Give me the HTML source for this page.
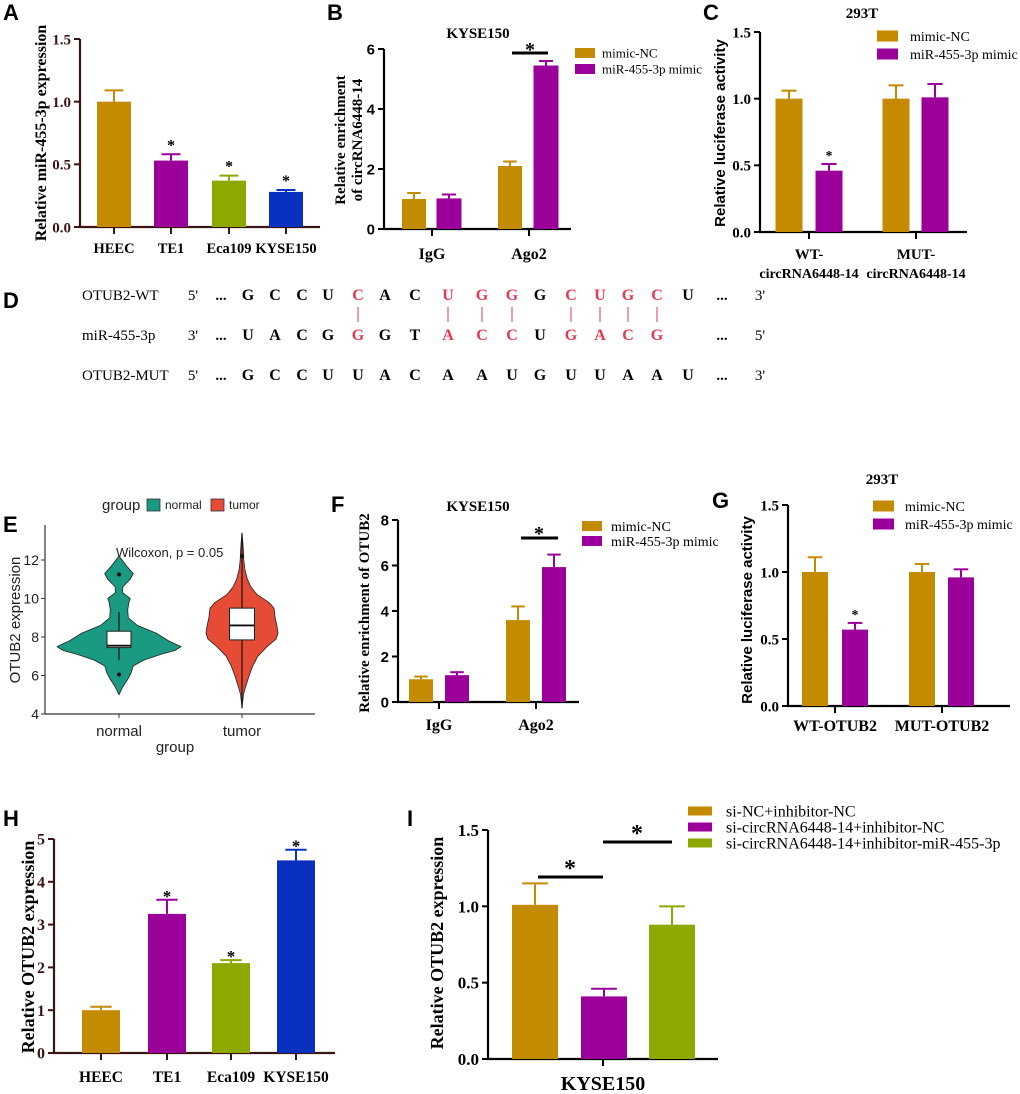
<!DOCTYPE html>
<html><head><meta charset="utf-8"><style>
html,body{margin:0;padding:0;background:#fff;}
svg{display:block;}
</style></head><body>
<svg id="fig" width="1020" height="1094" viewBox="0 0 1020 1094" xmlns="http://www.w3.org/2000/svg">
<rect x="0" y="0" width="1020" height="1094" fill="#fff"/>
</svg>
<script>
// ===== DATA =====
const aCategories = ["HEEC","TE1","Eca109","KYSE150"];
const aValues = [1.0, 0.53, 0.37, 0.28];
const aErrors = [0.09, 0.05, 0.04, 0.015];
const aStars = [false, true, true, true];
const aTicks = [0, 0.5, 1.0, 1.5];

const bCategories = ["IgG","Ago2"];
const bNC = [1.0, 2.1];
const bNCErr = [0.2, 0.15];
const bMimic = [1.02, 5.45];
const bMimicErr = [0.13, 0.15];
const bTicks = [0, 2, 4, 6];

const cCategories = [["WT-","circRNA6448-14"],["MUT-","circRNA6448-14"]];
const cNC = [1.0, 1.0];
const cNCErr = [0.06, 0.1];
const cMimic = [0.46, 1.01];
const cMimicErr = [0.05, 0.1];
const cTicks = [0, 0.5, 1.0, 1.5];

const fCategories = ["IgG","Ago2"];
const fNC = [1.0, 3.6];
const fNCErr = [0.12, 0.6];
const fMimic = [1.18, 5.93];
const fMimicErr = [0.13, 0.55];
const fTicks = [0, 2, 4, 6, 8];

const gCategories = ["WT-OTUB2","MUT-OTUB2"];
const gNC = [1.0, 1.0];
const gNCErr = [0.11, 0.06];
const gMimic = [0.57, 0.96];
const gMimicErr = [0.05, 0.06];
const gTicks = [0, 0.5, 1.0, 1.5];

const hCategories = ["HEEC","TE1","Eca109","KYSE150"];
const hValues = [1.0, 3.25, 2.1, 4.5];
const hErrors = [0.08, 0.33, 0.07, 0.25];
const hStars = [false, true, true, true];
const hTicks = [0, 1, 2, 3, 4, 5];

const iLegend = ["si-NC+inhibitor-NC","si-circRNA6448-14+inhibitor-NC","si-circRNA6448-14+inhibitor-miR-455-3p"];
const iValues = [1.01, 0.41, 0.88];
const iErrors = [0.14, 0.05, 0.12];
const iTicks = [0, 0.5, 1.0, 1.5];

const eTicks = [4, 6, 8, 10, 12];
const eNormalVals = [5.0,5.4,5.8,6.1,6.5,6.8,7.1,7.3,7.5,7.8,8.2,8.6,9.0,9.4,9.8,10.0,10.3,10.6,11.0,11.3,11.7,12.0,12.2];
const eNormalDens = [0,0.06,0.14,0.19,0.23,0.4,0.68,0.9,1.0,0.8,0.6,0.3,0.15,0.14,0.16,0.18,0.06,0.06,0.18,0.23,0.12,0.05,0];
const eTumorVals = [4.3,5.0,5.3,6.0,6.5,7.0,7.5,7.9,8.2,8.6,9.0,9.5,9.8,10.2,10.6,11.0,11.5,12.0,12.5,13.0,13.4];
const eTumorDens = [0,0.04,0.08,0.2,0.3,0.44,0.7,0.95,1.0,0.97,0.92,0.89,0.75,0.42,0.25,0.15,0.08,0.05,0.04,0.02,0];
const eNormalBox = [6.8, 7.45, 7.55, 8.3, 9.3];
const eTumorBox = [4.3, 7.85, 8.6, 9.5, 13.4];
const eNormalOutliers = [11.25, 6.05];
const eTumorOutliers = [12.2];

// ===== HELPERS =====
const NS = 'http://www.w3.org/2000/svg';
const svg = document.getElementById('fig');
const GOLD = '#C48A00', PURP = '#9B009B', GREEN = '#8DA800', BLUE = '#0A30C0';
const SERIF = '"Liberation Serif", serif', SANS = '"Liberation Sans", sans-serif';
function el(tag, attrs) {
  const e = document.createElementNS(NS, tag);
  for (const k in attrs) e.setAttribute(k, attrs[k]);
  svg.appendChild(e);
  return e;
}
function txt(x, y, s, size, font, weight, anchor, fill, rot) {
  const t = el('text', {x: x, y: y, 'font-size': size, 'font-family': font, 'font-weight': weight || 'normal', 'text-anchor': anchor || 'middle', fill: fill || '#000'});
  if (rot) t.setAttribute('transform', 'rotate(-90 ' + x + ' ' + y + ')');
  t.textContent = s;
  return t;
}
function axes(L, ticks, fmt, tickFont, tickSize, color) {
  const ys = v => L.y0 - (v / L.yMax) * (L.y0 - L.yTop);
  const ya = el('line', {x1: L.ax, y1: L.yTop, x2: L.ax, y2: L.y0, stroke: color, 'stroke-width': 2.2});
  
  
  const xa = el('line', {x1: L.ax - 1, y1: L.y0, x2: L.axEnd, y2: L.y0, stroke: color, 'stroke-width': 2.2});
  
  
  ticks.forEach(v => {
    el('line', {x1: L.ax - 6, y1: ys(v), x2: L.ax, y2: ys(v), stroke: color, 'stroke-width': 2});
    const t = txt(L.ax - 9, ys(v) + tickSize * 0.35, fmt(v), tickSize, tickFont, 'bold', 'end', color);
    
    
  });
  return ys;
}
function bar(ys, L, cx, w, v, e, color, name) {
  const r = el('rect', {x: cx - w / 2, y: ys(v), width: w, height: L.y0 - ys(v), fill: color});
  
  
  const top = ys(v + e);
  el('line', {x1: cx, y1: ys(v), x2: cx, y2: top, stroke: color, 'stroke-width': 2});
  el('line', {x1: cx - w * 0.28, y1: top, x2: cx + w * 0.28, y2: top, stroke: color, 'stroke-width': 2});
  return top;
}
function xtick(L, x, color) {
  el('line', {x1: x, y1: L.y0, x2: x, y2: L.y0 + 7, stroke: color, 'stroke-width': 2});
}
function legend(x, y, w, h, color, label, size, font, tx) {
  const s = el('rect', {x: x, y: y - h / 2, width: w, height: h, fill: color});
  
  
  const t = txt(tx, y + size * 0.35, label, size, font, 'normal', 'start');
  
  
}
function panelLetter(x, y, s) {
  const t = txt(x, y, s, 22, SANS, 'bold', 'start');
  
  
}
const f1 = v => v.toFixed(1), f0 = v => String(v);

// ===== PANEL A =====
panelLetter(3, 20, 'A');
(function () {
  const L = {ax: 80, y0: 227, yTop: 39, yMax: 1.5, axEnd: 320};
  const AX = '#3b1414';
  const ys = axes(L, aTicks, f1, SERIF, 15, AX);
  const cxs = [114, 171, 229, 286];
  const cols = [GOLD, PURP, GREEN, BLUE];
  aValues.forEach((v, i) => {
    const top = bar(ys, L, cxs[i], 34, v, aErrors[i], cols[i], 'bar-' + aCategories[i].toLowerCase());
    xtick(L, cxs[i], AX);
    if (aStars[i]) txt(cxs[i], top - 4, '*', 16, SERIF, 'bold');
    const t = txt(cxs[i], 253, aCategories[i], 14.5, SERIF, 'bold');
    
    
  });
  const yl = txt(46, 133, 'Relative miR-455-3p expression', 16, SERIF, 'bold', 'middle', '#000', true);
  
  
})();

// ===== PANEL B =====
panelLetter(327, 20, 'B');
(function () {
  const L = {ax: 384, y0: 229, yTop: 49, yMax: 6, axEnd: 571};
  const ys = axes(L, bTicks, f0, SANS, 15, '#000');
  const groups = [432, 529];
  const nc = [414, 510], mm = [449, 546];
  bCategories.forEach((c, i) => {
    bar(ys, L, nc[i], 24, bNC[i], bNCErr[i], GOLD, 'bar-mimic-nc-' + c.toLowerCase());
    bar(ys, L, mm[i], 25, bMimic[i], bMimicErr[i], PURP, 'bar-mimic-' + c.toLowerCase());
    xtick(L, groups[i], '#000');
    const t = txt(groups[i], 259, c, 16, SERIF, 'bold');
    
    
  });
  el('line', {x1: 512, y1: 53, x2: 548, y2: 53, stroke: '#000', 'stroke-width': 3});
  txt(530, 56, '*', 20, SERIF, 'bold');
  const ti = txt(478, 38, 'KYSE150', 15, SERIF, 'bold');
  
  
  legend(575, 53, 20, 10, GOLD, 'mimic-NC', 13, SERIF, 602);
  legend(575, 69, 20, 10, PURP, 'miR-455-3p mimic', 13, SERIF, 602);
  const y1 = txt(345, 140, 'Relative enrichment', 15, SERIF, 'bold', 'middle', '#000', true);
  
  
  txt(362, 140, 'of circRNA6448-14', 15, SERIF, 'bold', 'middle', '#000', true);
})();

// ===== PANEL C =====
panelLetter(703, 20, 'C');
(function () {
  const L = {ax: 760, y0: 232, yTop: 32, yMax: 1.5, axEnd: 967};
  const ys = axes(L, cTicks, f1, SERIF, 15, '#000');
  const groups = [809, 916];
  const nc = [789, 896], mm = [829, 935];
  cCategories.forEach((c, i) => {
    bar(ys, L, nc[i], 27, cNC[i], cNCErr[i], GOLD, 'bar-mimic-nc-' + i);
    const top = bar(ys, L, mm[i], 27, cMimic[i], cMimicErr[i], PURP, 'bar-mimic-' + i);
    if (i === 0) txt(mm[i], top - 4, '*', 14, SERIF, 'bold');
    xtick(L, groups[i], '#000');
    const t = txt(groups[i], 259, c[0], 15, SERIF, 'bold');
    
    
    txt(groups[i], 278, c[1], 14, SERIF, 'bold');
  });
  const ti = txt(862, 18, '293T', 15, SERIF, 'bold');
  
  
  legend(877, 36, 21, 11, GOLD, 'mimic-NC', 14, SERIF, 910);
  legend(877, 54, 21, 11, PURP, 'miR-455-3p mimic', 14, SERIF, 910);
  const yl = txt(725, 133, 'Relative luciferase activity', 15, SANS, 'bold', 'middle', '#000', true);
  
  
})();

// ===== PANEL D =====
panelLetter(3, 308, 'D');
(function () {
  const xs = [248,275,302,328,358,385,415,448,482,512,540,571,600,628,657,688];
  const wt = ['G','C','C','U','C','A','C','U','G','G','G','C','U','G','C','U'];
  const wtRed = [0,0,0,0,1,0,0,1,1,1,0,1,1,1,1,0];
  const mir = ['U','A','C','G','G','G','T','A','C','C','U','G','A','C','G',''];
  const mirRed = [0,0,0,0,1,0,0,1,1,1,0,1,1,1,1,0];
  const mut = ['G','C','C','U','U','A','C','A','A','U','G','U','U','A','A','U'];
  const RED = '#E8374F';
  const rows = [[300,'OTUB2-WT',"5'",wt,wtRed,"3'"],[340,'miR-455-3p',"3'",mir,mirRed,"5'"],[380,'OTUB2-MUT',"5'",mut,null,"3'"]];
  rows.forEach(r => {
    const y = r[0];
    const l = txt(82, y, r[1], 15, SERIF, 'normal', 'start');
    
    
    txt(193, y, r[2], 15, SERIF, 'normal');
    txt(221, y, '...', 15, SERIF, 'bold');
    r[3].forEach((ch, i) => {
      const t = txt(xs[i], y, ch, 16, SERIF, 'bold', 'middle', (r[4] && r[4][i]) ? RED : '#000');
      
      
    });
    txt(722, y, '...', 15, SERIF, 'bold');
    txt(760, y, r[5], 15, SERIF, 'normal');
  });
  wtRed.forEach((f, i) => {
    if (f) el('line', {x1: xs[i], y1: 307, x2: xs[i], y2: 322, stroke: RED, 'stroke-width': 1});
  });
})();

// ===== PANEL E =====
panelLetter(3, 532, 'E');
(function () {
  const ax = 45, y0 = 714, yOf = v => 714 - (v - 4) * 19.25;
  const TEAL = '#1A9A80', RED = '#E64B35';
  function violin(cx, vals, dens, maxw, color, name) {
    let d = '';
    vals.forEach((v, i) => { d += (i ? 'L' : 'M') + (cx + dens[i] * maxw).toFixed(1) + ',' + yOf(v).toFixed(1); });
    for (let i = vals.length - 1; i >= 0; i--) d += 'L' + (cx - dens[i] * maxw).toFixed(1) + ',' + yOf(vals[i]).toFixed(1);
    const p = el('path', {d: d + 'Z', fill: color, stroke: '#222', 'stroke-width': 0.8, 'stroke-linejoin': 'round'});
    
    
  }
  function box(cx, b, hw, name) {
    el('line', {x1: cx, y1: yOf(b[0]), x2: cx, y2: yOf(b[4]), stroke: '#111', 'stroke-width': 1.2});
    const r = el('rect', {x: cx - hw, y: yOf(b[3]), width: hw * 2, height: yOf(b[1]) - yOf(b[3]), fill: '#fff', stroke: '#222', 'stroke-width': 1});
    
    
    el('line', {x1: cx - hw, y1: yOf(b[2]), x2: cx + hw, y2: yOf(b[2]), stroke: '#111', 'stroke-width': 1.8});
  }
  violin(119, eNormalVals, eNormalDens, 62, TEAL, 'violin-normal');
  violin(242, eTumorVals, eTumorDens, 36, RED, 'violin-tumor');
  box(119, eNormalBox, 12, 'box-normal');
  box(242, eTumorBox, 12.5, 'box-tumor');
  eNormalOutliers.forEach(v => el('circle', {cx: 119, cy: yOf(v), r: 2, fill: '#111'}));
  eTumorOutliers.forEach(v => el('circle', {cx: 242, cy: yOf(v), r: 2, fill: '#111'}));
  el('line', {x1: ax, y1: 525, x2: ax, y2: y0, stroke: '#333', 'stroke-width': 1.2});
  el('line', {x1: ax, y1: y0, x2: 315, y2: y0, stroke: '#333', 'stroke-width': 1.2});
  eTicks.forEach(v => {
    el('line', {x1: ax - 4, y1: yOf(v), x2: ax, y2: yOf(v), stroke: '#333', 'stroke-width': 1});
    const t = txt(ax - 6, yOf(v) + 5, String(v), 14, SANS, 'normal', 'end', '#222');
    
    
  });
  [[119,'normal'],[242,'tumor']].forEach(p => {
    el('line', {x1: p[0], y1: y0, x2: p[0], y2: y0 + 4, stroke: '#333', 'stroke-width': 1});
    const t = txt(p[0], 736, p[1], 15, SANS, 'normal', 'middle', '#222');
    
    
  });
  const xt = txt(175, 752, 'group', 15, SANS, 'normal', 'middle', '#222');
  
  
  const yt = txt(20, 620, 'OTUB2 expression', 15, SANS, 'normal', 'middle', '#222', true);
  
  
  const w = txt(116, 557, 'Wilcoxon, p = 0.05', 13, SANS, 'normal', 'start', '#222');
  
  
  txt(102, 510, 'group', 15, SANS, 'normal', 'start', '#222');
  const s1 = el('rect', {x: 147, y: 499, width: 13, height: 12, fill: TEAL, stroke: '#333', 'stroke-width': 0.8});
  
  
  txt(165, 509, 'normal', 12, SANS, 'normal', 'start', '#222');
  const s2 = el('rect', {x: 211, y: 499, width: 13, height: 12, fill: RED, stroke: '#333', 'stroke-width': 0.8});
  
  
  txt(229, 509, 'tumor', 12, SANS, 'normal', 'start', '#222');
})();

// ===== PANEL F =====
panelLetter(331, 512, 'F');
(function () {
  const L = {ax: 398, y0: 702, yTop: 520, yMax: 8, axEnd: 579};
  const ys = axes(L, fTicks, f0, SANS, 15, '#000');
  const groups = [439, 536];
  const nc = [421, 518], mm = [457, 554];
  fCategories.forEach((c, i) => {
    bar(ys, L, nc[i], 24, fNC[i], fNCErr[i], GOLD, 'bar-mimic-nc-' + c.toLowerCase());
    bar(ys, L, mm[i], 24, fMimic[i], fMimicErr[i], PURP, 'bar-mimic-' + c.toLowerCase());
    xtick(L, groups[i], '#000');
    const t = txt(groups[i], 730, c, 16, SERIF, 'bold');
    
    
  });
  el('line', {x1: 521, y1: 538, x2: 558, y2: 538, stroke: '#000', 'stroke-width': 3});
  txt(539, 540, '*', 20, SERIF, 'bold');
  const ti = txt(478, 511, 'KYSE150', 15, SERIF, 'bold');
  
  
  legend(582, 526, 20, 10, GOLD, 'mimic-NC', 14, SERIF, 611);
  legend(582, 541, 20, 10, PURP, 'miR-455-3p mimic', 14, SERIF, 611);
  const yl = txt(369, 613, 'Relative enrichment of OTUB2', 15, SERIF, 'bold', 'middle', '#000', true);
  
  
})();

// ===== PANEL G =====
panelLetter(712, 508, 'G');
(function () {
  const L = {ax: 788, y0: 706, yTop: 505, yMax: 1.5, axEnd: 1010};
  const ys = axes(L, gTicks, f1, SERIF, 15, '#000');
  const groups = [835, 942];
  const nc = [815, 922], mm = [855, 961];
  gCategories.forEach((c, i) => {
    bar(ys, L, nc[i], 26, gNC[i], gNCErr[i], GOLD, 'bar-mimic-nc-' + i);
    const top = bar(ys, L, mm[i], 26, gMimic[i], gMimicErr[i], PURP, 'bar-mimic-' + i);
    if (i === 0) txt(mm[i], top - 4, '*', 14, SERIF, 'bold');
    xtick(L, groups[i], '#000');
    const t = txt(groups[i], 731, c, 16, SERIF, 'bold');
    
    
  });
  const ti = txt(882, 484, '293T', 15, SERIF, 'bold');
  
  
  legend(873, 506, 21, 11, GOLD, 'mimic-NC', 14, SERIF, 905);
  legend(873, 524, 21, 11, PURP, 'miR-455-3p mimic', 14, SERIF, 905);
  const yl = txt(752, 610, 'Relative luciferase activity', 15, SANS, 'bold', 'middle', '#000', true);
  
  
})();

// ===== PANEL H =====
panelLetter(3, 826, 'H');
(function () {
  const L = {ax: 54, y0: 1053, yTop: 839, yMax: 5, axEnd: 335};
  const AX = '#3b1414';
  const ys = axes(L, hTicks, f0, SERIF, 16, AX);
  const cxs = [101, 167, 231, 296];
  const cols = [GOLD, PURP, GREEN, BLUE];
  hValues.forEach((v, i) => {
    const top = bar(ys, L, cxs[i], 38, v, hErrors[i], cols[i], 'bar-' + hCategories[i].toLowerCase());
    xtick(L, cxs[i], AX);
    if (hStars[i]) txt(cxs[i], top + 2, '*', 17, SERIF, 'bold');
    const t = txt(cxs[i], 1082, hCategories[i], 15.5, SERIF, 'bold');
    
    
  });
  const yl = txt(34, 947, 'Relative OTUB2 expression', 18, SERIF, 'bold', 'middle', '#000', true);
  
  
})();

// ===== PANEL I =====
panelLetter(407, 826, 'I');
(function () {
  const L = {ax: 488, y0: 1059, yTop: 830, yMax: 1.5, axEnd: 718};
  const ys = axes(L, iTicks, f1, SERIF, 17, '#000');
  const cxs = [535, 604, 672];
  const cols = [GOLD, PURP, GREEN];
  iValues.forEach((v, i) => {
    bar(ys, L, cxs[i], 46, v, iErrors[i], cols[i], 'bar-group-' + (i + 1));
    legend(688, [811, 827, 843][i], 24, 9, cols[i], iLegend[i], 16, SERIF, 726);
  });
  xtick(L, 603, '#000');
  el('line', {x1: 538, y1: 877, x2: 603, y2: 877, stroke: '#000', 'stroke-width': 3});
  txt(570, 876, '*', 24, SERIF, 'bold');
  el('line', {x1: 603, y1: 842, x2: 672, y2: 842, stroke: '#000', 'stroke-width': 3});
  txt(637, 841, '*', 24, SERIF, 'bold');
  const t = txt(603, 1090, 'KYSE150', 20, SERIF, 'bold');
  
  
  const yl = txt(443, 943, 'Relative OTUB2 expression', 18, SERIF, 'bold', 'middle', '#000', true);
  
  
})();
</script>
</body></html>
